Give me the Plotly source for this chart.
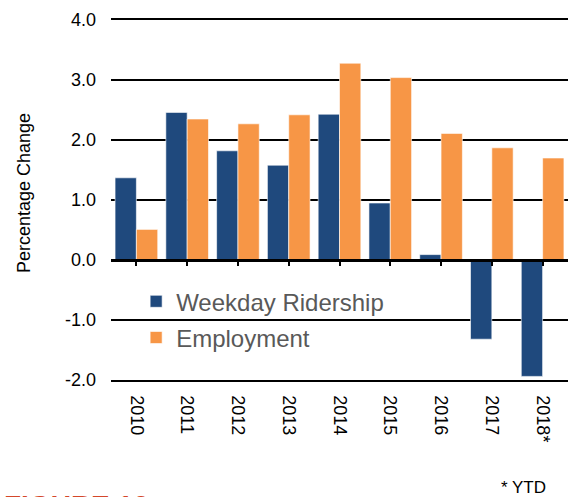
import plotly.graph_objects as go

years = ["2010", "2011", "2012", "2013", "2014", "2015", "2016", "2017", "2018*"]
ridership = [1.37, 2.46, 1.82, 1.58, 2.43, 0.95, 0.09, -1.32, -1.94]
employment = [0.51, 2.35, 2.27, 2.42, 3.28, 3.04, 2.11, 1.87, 1.70]
y_ticks = [-2, -1, 0, 1, 2, 3, 4]
y_labels = ["-2.0", "-1.0", "0.0", "1.0", "2.0", "3.0", "4.0"]

BLUE = "#1F497D"
ORANGE = "#F79646"
FONT = "Arial, Liberation Sans, sans-serif"

fig = go.Figure()
fig.add_trace(go.Bar(x=years, y=ridership, name="Weekday Ridership",
                     marker=dict(color=BLUE, line=dict(color="rgba(255,255,255,0.6)", width=1)),
                     legendgroup="a"))
fig.add_trace(go.Bar(x=years, y=employment, name="Employment",
                     marker=dict(color=ORANGE, line=dict(color="rgba(255,255,255,0.6)", width=1)),
                     legendgroup="b"))
# invisible trace to carry the zero-line axis with category ticks
fig.add_trace(go.Scatter(x=years, y=[0] * len(years), xaxis="x2", mode="markers",
                         marker=dict(opacity=0), hoverinfo="skip", showlegend=False))

fig.update_layout(
    width=574, height=497,
    margin=dict(l=111, r=6, t=20, b=117),
    paper_bgcolor="white", plot_bgcolor="white",
    font=dict(family=FONT, size=18, color="black"),
    barmode="group", bargap=0.16, bargroupgap=0,
    showlegend=True,
    legend=dict(x=0.055, y=0.28, xanchor="left", yanchor="top",
                font=dict(size=24, color="#595959"),
                bgcolor="rgba(0,0,0,0)", traceorder="grouped", tracegroupgap=2),
    xaxis=dict(type="category", categoryorder="array", categoryarray=years,
               range=[-0.5, 8.5], tickangle=90, ticks="", showgrid=False,
               showline=True, mirror=True, linecolor="black", linewidth=1.5,
               zeroline=False, tickfont=dict(size=18),
               ticklabelstandoff=10),
    xaxis2=dict(type="category", categoryorder="array", categoryarray=years,
                range=[-0.5, 8.5], overlaying="x", anchor="free", position=1/3,
                side="bottom", showline=True, linecolor="black", linewidth=2.5,
                ticks="outside", ticklen=4, tickwidth=2, tickcolor="black",
                showticklabels=False, showgrid=False, zeroline=False),
    yaxis=dict(range=[-2, 4], tickvals=y_ticks, ticktext=y_labels,
               showgrid=True, gridcolor="black", gridwidth=1.5,
               zeroline=False, showline=False, ticks="",
               tickfont=dict(size=18), ticklabelstandoff=14),
)

fig.add_annotation(text="Percentage Change", textangle=-90, xref="paper", yref="paper",
                   x=(24 - 111) / 457, y=(380 - 193) / 360, xanchor="center", yanchor="middle",
                   showarrow=False, font=dict(size=18, color="black"))
fig.add_annotation(text="* YTD", xref="paper", yref="paper",
                   x=(548 - 111) / 457, y=-(476 - 380) / 360, xanchor="right", yanchor="top",
                   showarrow=False, font=dict(size=17, color="black"))
fig.add_annotation(text="<b>FIGURE 10</b>", xref="paper", yref="paper",
                   x=(2 - 111) / 457, y=-(488 - 380) / 360, xanchor="left", yanchor="top",
                   showarrow=False, font=dict(size=28, color="#D4472A"))

fig.write_html("out.html")
